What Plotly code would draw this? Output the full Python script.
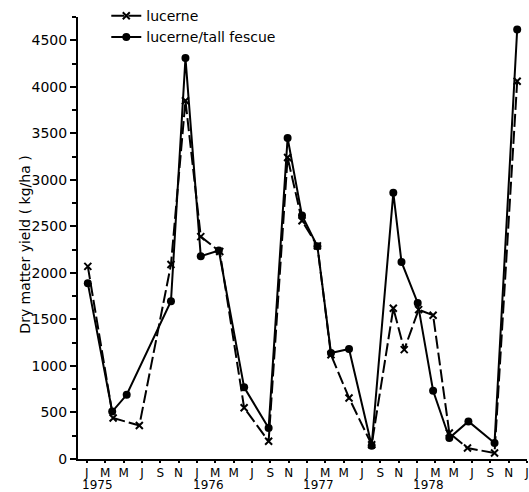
import plotly.graph_objects as go

# Sampling times in months since January 1975
lucerne_months = [0.1, 2.86, 5.72, 9.17, 10.75, 12.42, 14.49, 17.15, 19.82, 21.89, 23.46, 25.14,
                  26.62, 28.59, 31.06, 33.42, 34.61, 36.18, 37.76, 39.53, 41.51, 44.46, 46.93]
lucerne_yield = [2070, 440, 360, 2090, 3850, 2390, 2230, 550, 190, 3240, 2560, 2290,
                 1120, 656, 154, 1620, 1175, 1605, 1545, 280, 118, 64, 4060]

fescue_months = [0.1, 2.76, 4.34, 9.17, 10.75, 12.42, 14.39, 17.15, 19.82, 21.89, 23.46, 25.14,
                 26.62, 28.59, 31.06, 33.42, 34.31, 36.08, 37.76, 39.53, 41.61, 44.46, 46.93]
fescue_yield = [1890, 510, 690, 1695, 4310, 2180, 2240, 770, 333, 3450, 2616, 2286,
                1140, 1183, 143, 2860, 2118, 1677, 734, 226, 404, 172, 4616]

tick_months = list(range(0, 49, 2))
tick_text = ["J", "M", "M", "J", "S", "N"] * 4 + ["J"]
year_months = [0, 12, 24, 36]
year_labels = ["1975", "1976", "1977", "1978"]

FONT = "DejaVu Sans"

fig = go.Figure()
fig.add_trace(go.Scatter(
    x=lucerne_months, y=lucerne_yield, name="lucerne",
    mode="lines+markers",
    line=dict(color="black", width=2, dash="13px,4px"),
    marker=dict(symbol="x-thin", size=7, line=dict(color="black", width=2)),
))
fig.add_trace(go.Scatter(
    x=fescue_months, y=fescue_yield, name="lucerne/tall fescue",
    mode="lines+markers",
    line=dict(color="black", width=2),
    marker=dict(symbol="circle", size=8, color="black"),
))

for m, lab in zip(year_months, year_labels):
    fig.add_annotation(x=m - 0.7, y=-0.058, xref="x", yref="paper", text=lab,
                       showarrow=False, xanchor="left", yanchor="middle",
                       font=dict(family=FONT, size=12, color="black"))

fig.add_annotation(x=-0.118, y=0.485, xref="paper", yref="paper",
                   text="Dry matter yield ( kg/ha )", textangle=-90,
                   showarrow=False, xanchor="center", yanchor="middle",
                   font=dict(family=FONT, size=14, color="black"))

fig.update_layout(
    width=529, height=492,
    margin=dict(l=78, r=0, t=17, b=33),
    paper_bgcolor="white", plot_bgcolor="white",
    font=dict(family=FONT, size=14, color="black"),
    showlegend=True,
    legend=dict(x=0.063, y=1.038, xanchor="left", yanchor="top",
                bgcolor="rgba(0,0,0,0)", font=dict(family=FONT, size=14),
                tracegroupgap=0),
)
fig.update_xaxes(
    range=[-0.97, 48.0], tickmode="array", tickvals=tick_months, ticktext=tick_text,
    showgrid=False, zeroline=False, showline=True, linecolor="black", linewidth=2,
    ticks="outside", ticklen=2, tickwidth=1.5, tickcolor="black",
    ticklabeloverflow="allow",
    tickfont=dict(family=FONT, size=12, color="black"),
)
fig.update_yaxes(
    range=[0, 4750], tickmode="array", tickvals=list(range(0, 4501, 500)),
    showgrid=False, zeroline=False, showline=True, linecolor="black", linewidth=2,
    ticks="outside", ticklen=6, tickwidth=1.5, tickcolor="black",
    minor=dict(tickmode="array", tickvals=list(range(250, 4751, 500)),
               ticks="outside", ticklen=4, tickwidth=1.5, tickcolor="black"),
    tickfont=dict(family=FONT, size=14, color="black"),
)
fig.write_html("out.html", config={"displayModeBar": False},
               post_script="document.body.style.margin='0px';")
